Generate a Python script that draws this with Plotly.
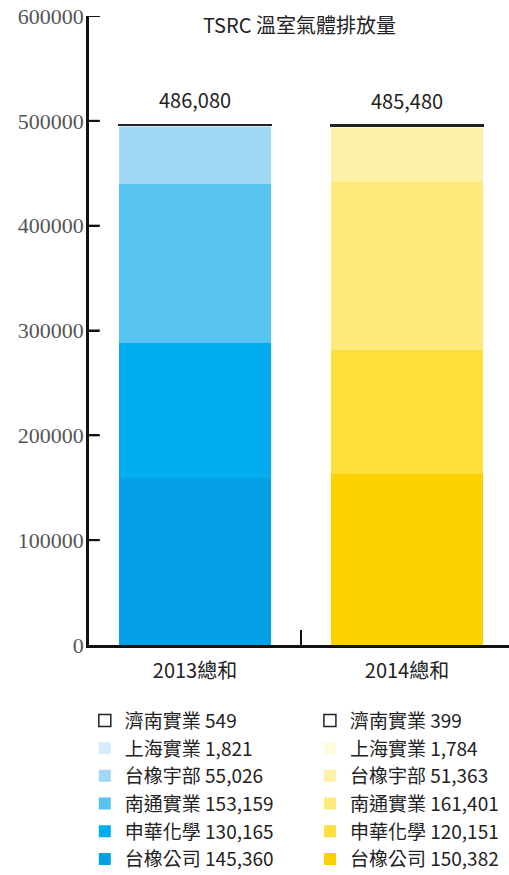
import plotly.graph_objects as go

categories = ["2013總和", "2014總和"]
companies = ["台橡公司", "申華化學", "南通實業", "台橡宇部", "上海實業", "濟南實業"]
label_2013 = ["145,360", "130,165", "153,159", "55,026", "1,821", "549"]
label_2014 = ["150,382", "120,151", "161,401", "51,363", "1,784", "399"]
# segment heights as drawn in the picture
values_2013 = [159600, 128800, 151400, 54400, 1900, 600]
values_2014 = [163100, 118300, 160500, 51500, 1900, 500]
totals = ["486,080", "485,480"]
y_ticks = [0, 100000, 200000, 300000, 400000, 500000, 600000]
colors_2013 = ["#049FE5", "#00AEEF", "#56C3F1", "#A0D8F5", "#D3EDFB", "#FFFFFF"]
colors_2014 = ["#FDD000", "#FFDF3A", "#FFE97A", "#FFF0A8", "#FFFBDD", "#FFFFFF"]

FONT = "Noto Sans CJK TC"
fig = go.Figure()

for i, comp in enumerate(companies):
    outline = 1.5 if comp == "濟南實業" else 0
    fig.add_trace(go.Bar(
        x=[categories[0]], y=[values_2013[i]], name=f"{comp} {label_2013[i]}",
        marker=dict(color=colors_2013[i], line=dict(color="#222222", width=outline)),
        width=0.72, legend="legend", hoverinfo="skip"))
for i, comp in enumerate(companies):
    outline = 1.5 if comp == "濟南實業" else 0
    fig.add_trace(go.Bar(
        x=[categories[1]], y=[values_2014[i]], name=f"{comp} {label_2014[i]}",
        marker=dict(color=colors_2014[i], line=dict(color="#222222", width=outline)),
        width=0.72, legend="legend2", hoverinfo="skip"))

for c, t, v in zip(categories, totals, [values_2013, values_2014]):
    fig.add_annotation(x=c, y=sum(v), text=t, showarrow=False, yshift=25,
                       font=dict(family=FONT, size=20, color="#222222"))

fig.add_annotation(x=0.5, xref="paper", y=1.0, yref="paper", yanchor="middle", yshift=-8,
                   text="TSRC 溫室氣體排放量", showarrow=False,
                   font=dict(family=FONT, size=20, color="#222222"))

# inward tick marks on the value axis
for tv in y_ticks[1:]:
    fig.add_shape(type="line", xref="x domain", yref="y", x0=0, x1=0.026, y0=tv, y1=tv,
                  line=dict(color="#111111", width=2), layer="above")

legend_common = dict(
    font=dict(family=FONT, size=19, color="#222222"),
    traceorder="reversed", bgcolor="rgba(0,0,0,0)",
    xanchor="left", yanchor="top", tracegroupgap=0, itemwidth=30,
)

fig.update_layout(
    width=509, height=875, autosize=False,
    margin=dict(l=89, r=0, t=16, b=230, autoexpand=False),
    barmode="stack", bargap=0.28,
    plot_bgcolor="white", paper_bgcolor="white",
    showlegend=True,
    legend=dict(x=-0.010, y=-0.090, **legend_common),
    legend2=dict(x=0.526, y=-0.090, **legend_common),
    xaxis=dict(range=[-0.5, 1.481], showline=True, linecolor="#111111", linewidth=2.5,
               ticks="inside", ticklen=15, tickwidth=2, tickcolor="#111111",
               tickson="boundaries", showgrid=False, zeroline=False, automargin=False,
               ticklabelstandoff=6,
               tickfont=dict(family=FONT, size=20, color="#222222")),
    yaxis=dict(range=[0, 600000], tickvals=y_ticks, showline=True, linecolor="#111111",
               linewidth=2.5, ticks="inside", ticklen=10, tickwidth=2, tickcolor="#111111",
               showgrid=False, zeroline=False, tickformat="d",
               automargin=False, ticklabeloverflow="allow", ticklabelstandoff=-2,
               tickfont=dict(family="Liberation Serif", size=22, color="#555555")),
)

fig.write_html("out.html", config={"displayModeBar": False},
               post_script="document.body.style.margin='0';")
